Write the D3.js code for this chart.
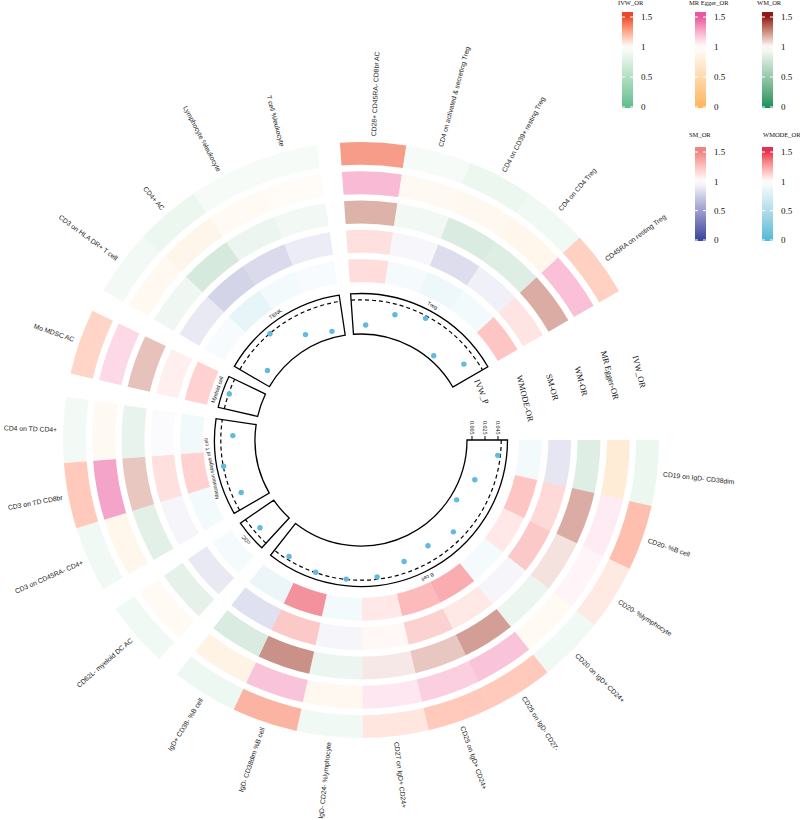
<!DOCTYPE html>
<html>
<head>
<meta charset="utf-8">
<script src="https://cdn.jsdelivr.net/npm/d3@7"></script>
<style>
  body { margin: 0; background: #fff; }
</style>
</head>
<body>
<svg id="circos" width="800" height="820"></svg>
<script>
// data
const sectorNames = ["B cell", "cDC", "Maturation stages of T cell", "Myeloid cell", "TBNK", "Treg"];
const sectorSizes = [10, 1, 3, 1, 4, 5];
const cellLabels = [
  "CD19 on IgD- CD38dim", "CD20- %B cell", "CD20- %lymphocyte", "CD20 on IgD+ CD24+",
  "CD25 on IgD- CD27-", "CD25 on IgD+ CD24+", "CD27 on IgD+ CD24+", "IgD- CD24- %lymphocyte",
  "IgD- CD38dim %B cell", "IgD+ CD38- %B cell",
  "CD62L- myeloid DC AC",
  "CD3 on CD45RA- CD4+", "CD3 on TD CD8br", "CD4 on TD CD4+",
  "Mo MDSC AC",
  "CD3 on HLA DR+ T cell", "CD4+ AC", "Lymphocyte %leukocyte", "T cell %leukocyte",
  "CD28+ CD45RA- CD8br AC", "CD4 on activated & secreting Treg", "CD4 on CD39+ resting Treg",
  "CD4 on CD4 Treg", "CD45RA on resting Treg"
];
const ivwOR   = [0.80, 1.30, 1.10, 0.85, 1.25, 1.25, 1.12, 0.85, 1.35, 0.82, 0.85, 0.85, 1.25, 0.87, 1.20, 0.88, 0.80, 0.90, 0.90, 1.45, 0.90, 0.80, 0.85, 1.22];
const eggerOR = [0.60, 1.10, 1.05, 0.90, 1.30, 1.25, 1.12, 0.85, 1.30, 0.75, 0.90, 0.82, 1.45, 0.88, 1.20, 0.87, 0.80, 0.90, 0.92, 1.35, 0.88, 0.85, 0.82, 1.32];
const wmOR    = [0.75, 1.30, 1.10, 0.85, 1.35, 1.20, 1.08, 0.85, 1.40, 0.72, 0.80, 0.78, 1.20, 0.82, 1.22, 0.88, 0.68, 0.85, 0.90, 1.28, 0.90, 0.72, 0.75, 1.30];
const smOR    = [0.80, 1.25, 1.35, 0.92, 1.15, 1.30, 1.05, 0.92, 1.35, 0.75, 0.82, 0.92, 1.20, 0.97, 1.10, 0.82, 0.65, 0.70, 0.85, 1.20, 0.93, 0.72, 0.88, 1.18];
const wmodeOR = [0.88, 1.25, 1.10, 0.90, 1.35, 1.30, 1.10, 0.88, 1.45, 0.80, 0.90, 0.88, 1.20, 0.85, 1.20, 0.92, 0.75, 0.88, 0.92, 1.15, 0.90, 0.82, 0.88, 1.25];
const ivwP    = [0.046, 0.0197, 0.0078, 0.0347, 0.0268, 0.0327, 0.0465, 0.0495, 0.0494, 0.045, 0.0402, 0.0355,
                 0.0495, 0.0316, 0.049, 0.0135, 0.0495, 0.0175, 0.0073, 0.0113, 0.034, 0.0462, 0.0055, 0.031];
const pTicks = [0.005, 0.025, 0.045];
const legendTicks = [0, 0.5, 1, 1.5];

const svg = d3.select('#circos');
const cx = 361, cy = 440;
const fontSans = "'Liberation Sans', Arial, sans-serif";
const fontSerif = "'Liberation Serif', 'Times New Roman', serif";

// angular layout (screen degrees, 0 = east, clockwise)
const bigGap = 30, smallGap = 4.5;
const cellDeg = (360 - bigGap - smallGap * (sectorSizes.length - 1)) / cellLabels.length;
const cellStart = [], cellSector = [];
let k = 0;
sectorSizes.forEach((n, s) => {
  for (let j = 0; j < n; j++) { cellStart.push(k * cellDeg + s * smallGap); cellSector.push(s); k++; }
});
const rad = d3.scaleLinear().domain([0, 360]).range([0, 2 * Math.PI]);
const toArc = d => rad(d) + Math.PI / 2;   // d3.arc angle (0 = north)
const xy = (deg, r) => [cx + r * Math.cos(rad(deg)), cy + r * Math.sin(rad(deg))];

// heatmap tracks
const tracks = [
  { key: "IVW",   label: "IVW_OR",      title: "IVW_OR",      vals: ivwOR,   low: "#5DBE8C", high: "#EA4A2C" },
  { key: "MR",    label: "MR Egger-OR", title: "MR Egger_OR", vals: eggerOR, low: "#FFB55A", high: "#E8589E" },
  { key: "WM",    label: "WM-OR",       title: "WM_OR",       vals: wmOR,    low: "#14915A", high: "#8E1A18" },
  { key: "SM",    label: "SM-OR",       title: "SM_OR",       vals: smOR,    low: "#34489A", high: "#F08484" },
  { key: "WMODE", label: "WMODE-OR",    title: "WMODE_OR",    vals: wmodeOR, low: "#4FBAD4", high: "#E6304F" }
];
tracks.forEach(t => {
  t.color = d3.scaleLinear().domain([0, 1, 1.5]).range([t.low, "#ffffff", t.high])
    .interpolate(d3.interpolateLab).clamp(true);
});

const rTrack = d3.scaleBand().domain(["WMODE", "SM", "WM", "MR", "IVW"]).range([158, 298]).paddingInner(0.22);

const gHeat = svg.append('g').attr('transform', `translate(${cx},${cy})`);
tracks.forEach(t => {
  const arc = d3.arc().innerRadius(rTrack(t.key)).outerRadius(rTrack(t.key) + rTrack.bandwidth());
  gHeat.selectAll(null)
    .data(t.vals)
    .join('path')
    .attr('d', (v, i) => arc({ startAngle: toArc(cellStart[i]), endAngle: toArc(cellStart[i] + cellDeg) }))
    .attr('fill', v => t.color(v))
    .attr('fill-opacity', 0.62);
});

// track names in the big gap
const labelAngle = { IVW: -13.8, MR: -14.6, WM: -15, SM: -15.4, WMODE: -14.2 };
tracks.forEach(t => {
  const a = labelAngle[t.key];
  const [x, y] = xy(a, rTrack(t.key) + rTrack.bandwidth() / 2);
  svg.append('text')
    .attr('transform', `translate(${x},${y}) rotate(${a + 90})`)
    .attr('text-anchor', 'middle').attr('dominant-baseline', 'central')
    .style('font-family', fontSerif).style('font-size', '8.5px').attr('fill', '#111')
    .text(t.label);
});

// inner p-value track
const rP = d3.scaleLinear().domain([-0.0027, 0.0597]).range([106, 146.5]);
const gP = svg.append('g').attr('transform', `translate(${cx},${cy})`);
const boxArc = d3.arc().innerRadius(rP.range()[0]).outerRadius(rP.range()[1]);
let sStart = 0;
sectorSizes.forEach((n, s) => {
  const a0 = cellStart[sStart], a1 = cellStart[sStart + n - 1] + cellDeg;
  gP.append('path')
    .attr('d', boxArc({ startAngle: toArc(a0), endAngle: toArc(a1) }))
    .attr('fill', 'none').attr('stroke', '#000').attr('stroke-width', 1.3);
  const p = d3.path();
  p.arc(0, 0, rP(0.05), rad(a0), rad(a1));
  gP.append('path').attr('d', p.toString())
    .attr('fill', 'none').attr('stroke', '#000').attr('stroke-width', 1.2)
    .attr('stroke-dasharray', '4,3');
  // sector name
  const am = (a0 + a1) / 2;
  const [x, y] = xy(am, rP.range()[1] + 4);
  svg.append('text')
    .attr('transform', `translate(${x},${y}) rotate(${am + 90})`)
    .attr('text-anchor', 'middle')
    .style('font-family', fontSans).style('font-size', '5.3px').attr('fill', '#222')
    .text(sectorNames[s]);
  sStart += n;
});

svg.append('g').selectAll('circle')
  .data(ivwP)
  .join('circle')
  .attr('cx', (p, i) => xy(cellStart[i] + cellDeg / 2, rP(p))[0])
  .attr('cy', (p, i) => xy(cellStart[i] + cellDeg / 2, rP(p))[1])
  .attr('r', 2.7)
  .attr('fill', '#62BAE0');

// y axis of the p track, at the start of the first sector
const gAx = svg.append('g');
pTicks.forEach(v => {
  const x = cx + rP(v);
  gAx.append('line').attr('x1', x).attr('x2', x).attr('y1', cy).attr('y2', cy - 4)
    .attr('stroke', '#000').attr('stroke-width', 1);
  gAx.append('text')
    .attr('transform', `translate(${x},${cy - 5.5}) rotate(90)`)
    .attr('text-anchor', 'end').attr('dominant-baseline', 'central')
    .style('font-family', fontSerif).style('font-size', '6px').attr('fill', '#111')
    .text(v);
});
{
  const a = -21.8;
  const [x, y] = xy(a, 130);
  svg.append('text')
    .attr('transform', `translate(${x},${y}) rotate(${a + 90})`)
    .attr('text-anchor', 'middle').attr('dominant-baseline', 'central')
    .style('font-family', fontSerif).style('font-size', '8.5px').attr('fill', '#111')
    .text('IVW_P');
}

// outer cell labels
svg.append('g').selectAll('text')
  .data(cellLabels)
  .join('text')
  .attr('transform', (d, i) => {
    const a = cellStart[i] + cellDeg / 2;
    const [x, y] = xy(a, 304);
    const right = Math.cos(rad(a)) >= 0;
    return `translate(${x},${y}) rotate(${right ? a : a + 180})`;
  })
  .attr('text-anchor', (d, i) => Math.cos(rad(cellStart[i] + cellDeg / 2)) >= 0 ? 'start' : 'end')
  .attr('dominant-baseline', 'central')
  .style('font-family', fontSans).style('font-size', '6.8px').attr('fill', '#1a1a1a')
  .text(d => d);

// colour legends
const legendPos = [
  { titleX: 618, barX: 622, top: 12, bottom: 108, y0: 107, y15: 17, titleY: 5 },
  { titleX: 689, barX: 695, top: 12, bottom: 108, y0: 107, y15: 17, titleY: 5 },
  { titleX: 757, barX: 762, top: 12, bottom: 108, y0: 107, y15: 17, titleY: 5 },
  { titleX: 689, barX: 695, top: 147, bottom: 241, y0: 240, y15: 152, titleY: 137 },
  { titleX: 763, barX: 762, top: 147, bottom: 241, y0: 240, y15: 152, titleY: 137 }
];
const defs = svg.append('defs');
tracks.forEach((t, i) => {
  const L = legendPos[i];
  const yS = d3.scaleLinear().domain([0, 1.5]).range([L.y0, L.y15]);
  const vTop = yS.invert(L.top), vBot = yS.invert(L.bottom);
  const grad = defs.append('linearGradient').attr('id', 'lg' + i)
    .attr('x1', 0).attr('x2', 0).attr('y1', 0).attr('y2', 1);
  d3.range(0, 1.0001, 0.05).forEach(f => {
    grad.append('stop').attr('offset', f).attr('stop-color', t.color(vTop + (vBot - vTop) * f));
  });
  const g = svg.append('g');
  g.append('text').attr('x', L.titleX).attr('y', L.titleY)
    .style('font-family', fontSerif).style('font-size', '6.5px').attr('fill', '#111')
    .text(t.title);
  g.append('rect').attr('x', L.barX).attr('y', L.top).attr('width', 11).attr('height', L.bottom - L.top)
    .attr('fill', `url(#lg${i})`);
  legendTicks.forEach(v => {
    g.append('line').attr('x1', L.barX).attr('x2', L.barX + 3).attr('y1', yS(v)).attr('y2', yS(v))
      .attr('stroke', '#fff').attr('stroke-width', 1);
    g.append('line').attr('x1', L.barX + 8).attr('x2', L.barX + 11).attr('y1', yS(v)).attr('y2', yS(v))
      .attr('stroke', '#fff').attr('stroke-width', 1);
  });
  const ax = g.append('g').attr('transform', `translate(${L.barX + 11},0)`)
    .call(d3.axisRight(yS).tickValues(legendTicks).tickSize(0).tickPadding(8).tickFormat(d3.format('~g')));
  ax.select('.domain').remove();
  ax.selectAll('text').style('font-family', fontSerif).style('font-size', '9px').attr('fill', '#111');
});
</script>
</body>
</html>
